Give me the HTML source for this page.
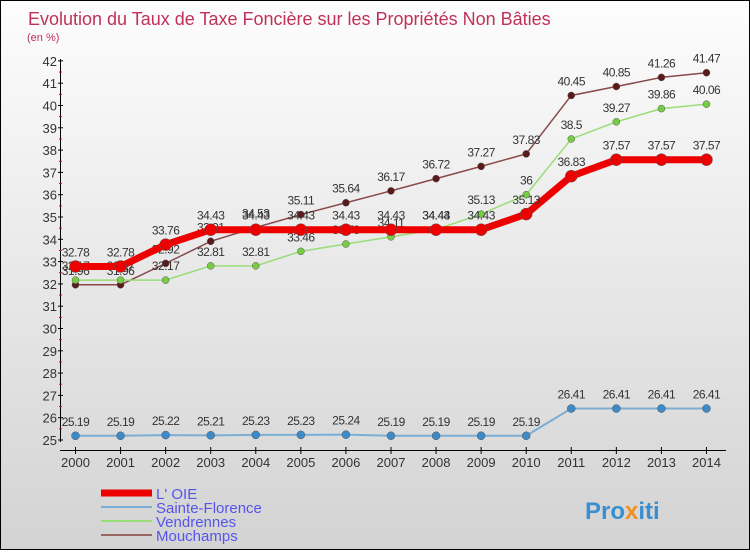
<!DOCTYPE html>
<html><head><meta charset="utf-8"><style>
html,body{margin:0;padding:0}
body{width:750px;height:550px;overflow:hidden;font-family:"Liberation Sans",sans-serif}
#wrap{position:absolute;left:0;top:0;width:748px;height:548px;border:1px solid #000;background:linear-gradient(#fdfdfd,#d3d3d3)}
</style></head><body>
<div id="wrap">
<svg id="chart" width="748" height="548"></svg>
</div>
<script>
const years=[2000,2001,2002,2003,2004,2005,2006,2007,2008,2009,2010,2011,2012,2013,2014];
const oie=[32.78,32.78,33.76,34.43,34.43,34.43,34.43,34.43,34.43,34.43,35.13,36.83,37.57,37.57,37.57];
const florence=[25.19,25.19,25.22,25.21,25.23,25.23,25.24,25.19,25.19,25.19,25.19,26.41,26.41,26.41,26.41];
const vendrennes=[32.17,32.17,32.17,32.81,32.81,33.46,33.79,34.11,34.44,35.13,36,38.5,39.27,39.86,40.06];
const mouchamps=[31.96,31.96,32.92,33.91,34.53,35.11,35.64,36.17,36.72,37.27,37.83,40.45,40.85,41.26,41.47];
const yTicks=[25,26,27,28,29,30,31,32,33,34,35,36,37,38,39,40,41,42];
const NS="http://www.w3.org/2000/svg";
const svg=document.getElementById('chart');
function X(i){return 74.5+i*45.07;}
function Y(v){return 439-(v-25)*22.3;}
function mk(t,a,p){const e=document.createElementNS(NS,t);for(const k in a)e.setAttribute(k,a[k]);(p||svg).appendChild(e);return e;}
function txt(x,y,s,a){const e=mk('text',Object.assign({x:x,y:y},a));e.textContent=s;return e;}
let t=txt(27,24,'Evolution du Taux de Taxe Foncière sur les Propriétés Non Bâties',{'font-size':18,fill:'#c0305a'});


t=txt(26,40,'(en %)',{'font-size':11,fill:'#c0305a'});


let ax=mk('line',{x1:59.5,y1:58,x2:59.5,y2:441,stroke:'#000'});


ax=mk('line',{x1:59,y1:449.5,x2:725,y2:449.5,stroke:'#000'});


yTicks.forEach(v=>{
  mk('line',{x1:57,x2:62,y1:Y(v),y2:Y(v),stroke:'#000'});
  if(v<42)mk('line',{x1:58,x2:61,y1:Y(v+0.5),y2:Y(v+0.5),stroke:'#e00'});
  const l=txt(56,Y(v)+5,String(v),{'font-size':13,fill:'#333','text-anchor':'end'});
  
  
});
years.forEach((y,i)=>{
  mk('line',{x1:X(i),x2:X(i),y1:446,y2:453,stroke:'#000'});
  const l=txt(X(i),466,String(y),{'font-size':13,fill:'#333','text-anchor':'middle'});
  
  
});
function series(data,color,w,r,dot,name){
  const g=mk('g',{});
  
  
  mk('polyline',{points:data.map((v,i)=>X(i)+','+Y(v)).join(' '),fill:'none',stroke:color,'stroke-width':w},g);
  data.forEach((v,i)=>{
    const c=mk('circle',{cx:X(i),cy:Y(v),r:r,fill:dot,stroke:'#555','stroke-width':0.5},g);
    
    
    const l=txt(X(i),Y(v)-10,String(v),{'font-size':12,fill:'#333','text-anchor':'middle','letter-spacing':'-0.5'});
    g.appendChild(l);
    
    
  });
}
series(florence,'#7aaed6',2,4,'#3d8ac8','series-sainte-florence');
series(mouchamps,'#8a4a4a',1.5,3.5,'#5a1a1a','series-mouchamps');
series(vendrennes,'#99dd77',1.5,3.5,'#77cc44','series-vendrennes');
series(oie,'#ee0000',7,6,'#ee0000','series-l-oie');
const leg=[['L\' OIE','#ee0000',7],['Sainte-Florence','#7aaed6',2],['Vendrennes','#99dd77',2],['Mouchamps','#996666',2]];
leg.forEach((e,i)=>{
  const g=mk('g',{});
  
  
  const y=492+i*14;
  mk('line',{x1:100,x2:151,y1:y,y2:y,stroke:e[1],'stroke-width':e[2]},g);
  const l=txt(155,y+6,e[0],{'font-size':15,fill:'#5555ee'});g.appendChild(l);
});
t=txt(584,518,'Pro',{'font-size':24,'font-weight':'bold',fill:'#3a8fd0'});


const ts=mk('tspan',{fill:'#f09020'},t);ts.textContent='x';
const ts2=mk('tspan',{fill:'#3a8fd0'},t);ts2.textContent='iti';
</script>
</body></html>
